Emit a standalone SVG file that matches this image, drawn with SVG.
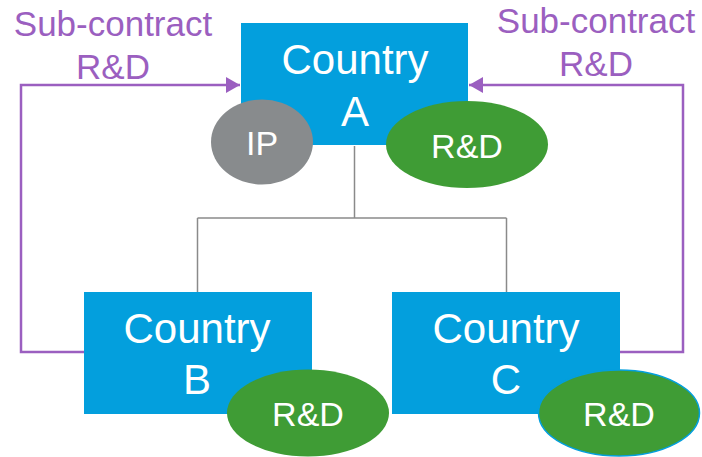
<svg xmlns="http://www.w3.org/2000/svg" width="702" height="457" viewBox="0 0 702 457">
<style>
.box{fill:#039fdd}
.rd{fill:#3f9c35}
.ip{fill:#888b8d}
.t{font-family:"Liberation Sans",Arial,sans-serif;fill:#fff;text-anchor:middle}
.big{font-size:42px}
.sm{font-size:34px}
.lbl{font-family:"Liberation Sans",Arial,sans-serif;fill:#9b5fc0;font-size:35px;text-anchor:middle}
.tree{fill:none;stroke:#8a8a8a;stroke-width:1.5}
.sub{fill:none;stroke:#9b5fc0;stroke-width:2.5}
</style>
<defs>
<marker id="ah" viewBox="0 0 14 16" refX="14" refY="8" markerWidth="14" markerHeight="16" markerUnits="userSpaceOnUse" orient="auto">
<path d="M0,0 L14,8 L0,16 Z" fill="#9b5fc0"/>
</marker>
</defs>
<g id="connectors">
<path class="tree" d="M354.5,146 V218 M197.5,218 H506.5 M197.5,218 V292 M506.5,218 V292"/>
<path class="sub" d="M84,352 H21 V85 H240" marker-end="url(#ah)"/>
<path class="sub" d="M620,352 H683 V85 H469" marker-end="url(#ah)"/>
</g>
<g id="label-left">
<text class="lbl" x="113" y="36">Sub-contract</text>
<text class="lbl" x="113" y="79">R&amp;D</text>
</g>
<g id="label-right">
<text class="lbl" x="596" y="33">Sub-contract</text>
<text class="lbl" x="596" y="76">R&amp;D</text>
</g>
<g id="country-a">
<rect class="box" x="241" y="23" width="227" height="122"/>
<text class="t big" x="355" y="74">Country</text>
<text class="t big" x="355" y="126">A</text>
</g>
<g id="ip-a">
<ellipse class="ip" cx="262" cy="142" rx="51" ry="42.5"/>
<text class="t sm" x="262" y="155">IP</text>
</g>
<g id="rd-a">
<ellipse class="rd" cx="467" cy="144.5" rx="81" ry="43.5"/>
<text class="t sm" x="467" y="157.5">R&amp;D</text>
</g>
<g id="country-b">
<rect class="box" x="84" y="292" width="228" height="122"/>
<text class="t big" x="197" y="343">Country</text>
<text class="t big" x="197" y="394">B</text>
</g>
<g id="rd-b">
<ellipse class="rd" cx="308" cy="413" rx="81" ry="43.5"/>
<text class="t sm" x="308" y="426">R&amp;D</text>
</g>
<g id="country-c">
<rect class="box" x="392" y="292" width="228" height="122"/>
<text class="t big" x="506" y="343">Country</text>
<text class="t big" x="506" y="394">C</text>
</g>
<g id="rd-c">
<ellipse class="rd" cx="619" cy="413" rx="80.5" ry="43" stroke="#039fdd" stroke-width="1.5"/>
<text class="t sm" x="619" y="426">R&amp;D</text>
</g>
</svg>
